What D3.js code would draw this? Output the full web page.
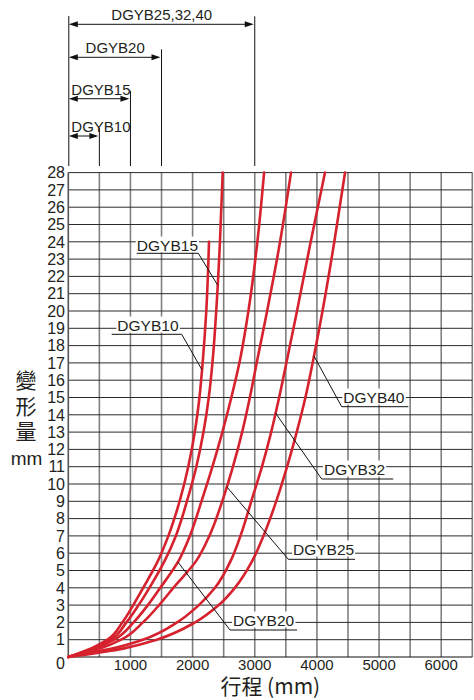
<!DOCTYPE html>
<html>
<head>
<meta charset="utf-8">
<script src="https://cdn.jsdelivr.net/npm/d3@7"></script>
<style>
body{margin:0;background:#fff;}
text{font-family:"Liberation Sans",Arial,sans-serif;fill:#231f20;}
.cjk{font-family:"Noto Sans CJK TC","Noto Sans CJK SC",sans-serif;}
</style>
</head>
<body>
<svg id="chart" width="474" height="700"></svg>
<script>
// models, left to right
var models = ["DGYB10","DGYB15","DGYB20","DGYB25","DGYB32","DGYB40"];

// deformation (mm) levels where the curves were read
var defLevels  = [0, 0.5, 1, 2, 3, 4, 5.6, 7, 9.08, 11, 13, 15, 17.2, 20, 24, 28];
// stroke (mm) at those levels
var strokeDGYB10 = [0, 370, 630, 870, 1045, 1205, 1448, 1610, 1797, 1930, 2035, 2110, 2166, 2220, 2264];
var strokeDGYB15 = [0, 390, 680, 935, 1130, 1305, 1556, 1730, 1915, 2060, 2175, 2260, 2324, 2380, 2440, 2484];
var strokeDGYB20 = [0, 440, 740, 1050, 1280, 1480, 1781, 1956, 2150, 2319, 2479, 2623, 2764, 2898, 3042, 3150];
var strokeDGYB25 = [0, 520, 850, 1200, 1460, 1690, 2066, 2270, 2484, 2649, 2797, 2921, 3042, 3199, 3407, 3583];
var strokeDGYB32 = [0, 720, 1200, 1750, 2100, 2360, 2618, 2770, 2951, 3116, 3264, 3392, 3520, 3680, 3900, 4130];
var strokeDGYB40 = [0, 900, 1422, 2040, 2420, 2680, 2966, 3140, 3353, 3520, 3675, 3815, 3942, 4090, 4280, 4452];

// deformation where each label's leader touches its curve
var labelAnchorDef = [16.6, 21.5, 5.5, 9.84, 14.1, 17.4];

// max stroke ranges shown above the chart
var rangeLabels = ["DGYB10","DGYB15","DGYB20","DGYB25,32,40"];
var rangeStroke = [500, 1000, 1500, 3000];

var xTicks = [1000, 2000, 3000, 4000, 5000, 6000];
var yTicks = [0,1,2,3,4,5,6,7,8,9,10,11,12,13,14,15,16,17,18,19,20,21,22,23,24,25,26,27,28];
var xTitle = "行程 (mm)";
var yTitle = ["變","形","量"];
var yUnit = "mm";

var curves = [strokeDGYB10, strokeDGYB15, strokeDGYB20, strokeDGYB25, strokeDGYB32, strokeDGYB40]
	.map(function(s){ return d3.zip(s, defLevels.slice(0, s.length)); });

var svg = d3.select('#chart');
var x = d3.scaleLinear().domain([0, 6500]).range([68.3, 472.3]);
var y = d3.scaleLinear().domain([0, 28]).range([657, 172.6]);
var red = '#d6222e';

//grid
var gGrid = svg.append('g');
gGrid.selectAll('line.v').data(d3.range(500, 6501, 500)).enter()
	.append('line')
	.attr('x1', function(d){return x(d)}).attr('x2', function(d){return x(d)})
	.attr('y1', y(28)).attr('y2', y(0))
	.attr('stroke', '#808080').attr('stroke-width', 1.6);
gGrid.selectAll('line.h').data(yTicks.slice(1)).enter()
	.append('line')
	.attr('x1', x(0)).attr('x2', x(6500))
	.attr('y1', function(d){return y(d)}).attr('y2', function(d){return y(d)})
	.attr('stroke', '#2b2b2b').attr('stroke-width', 1);
// axes lines
svg.append('line').attr('x1', x(0)).attr('x2', x(0)).attr('y1', y(28)).attr('y2', y(0))
	.attr('stroke', '#555').attr('stroke-width', 1.6);
svg.append('line').attr('x1', x(0)).attr('x2', x(6500)).attr('y1', y(0)).attr('y2', y(0))
	.attr('stroke', '#111').attr('stroke-width', 1.2);

//tick labels
svg.selectAll('text.xt').data(xTicks).enter()
	.append('text')
	.attr('x', function(d){return x(d)})
	.attr('y', y(0) + 13)
	.attr('text-anchor', 'middle')
	.style('font-size', '15px')
	.text(function(d){return d});
svg.selectAll('text.yt').data(yTicks).enter()
	.append('text')
	.attr('x', 65)
	.attr('y', function(d){return d == 0 ? y(0) + 6.5 : y(d)})
	.attr('dy', '0.36em')
	.attr('text-anchor', 'end')
	.style('font-size', '16px')
	.text(function(d){return d});

//axis titles
svg.append('text').attr('class', 'cjk')
	.attr('x', (x(0) + x(6500))/2.).attr('y', 694)
	.attr('text-anchor', 'middle')
	.style('font-size', '21px')
	.text(xTitle);
yTitle.forEach(function(c, i){
	svg.append('text').attr('class', 'cjk')
		.attr('x', 26).attr('y', 388 + i*25.5)
		.attr('text-anchor', 'middle')
		.style('font-size', '21px')
		.text(c);
});
svg.append('text')
	.attr('x', 26.5).attr('y', 465)
	.attr('text-anchor', 'middle')
	.style('font-size', '19px')
	.text(yUnit);

//curves, stroke as a function of deformation
var line = d3.line()
	.x(function(p){return x(p[0])})
	.y(function(p){return y(p[1])})
	.curve(d3.curveMonotoneY);
svg.selectAll('path.curve').data(curves).enter()
	.append('path')
	.attr('d', line)
	.attr('fill', 'none')
	.attr('stroke', red)
	.attr('stroke-width', 2.6)
	.attr('stroke-linecap', 'round');

//stroke on a curve at a given deformation (linear between readings)
function strokeAt(pts, d){
	for (var i = 1; i < pts.length; i++){
		if (pts[i][1] >= d){
			var t = (d - pts[i-1][1])/(pts[i][1] - pts[i-1][1]);
			return pts[i-1][0] + t*(pts[i][0] - pts[i-1][0]);
		}
	}
	return pts[pts.length-1][0];
}

//curve labels with leaders, positions in px
var labelLayout = [
	{elbow:[181.7, 334.3], end:111.7, tx:178.5, anchor:'end',   ty:330.5},
	{elbow:[198.3, 253.3], end:136.7, tx:198,   anchor:'end',   ty:250.5},
	{elbow:[230, 630],     end:297,   tx:233,   anchor:'start', ty:625.5},
	{elbow:[288.3, 559.3], end:355,   tx:293,   anchor:'start', ty:554.5},
	{elbow:[321.7, 479],   end:393.3, tx:324,   anchor:'start', ty:474.5},
	{elbow:[341.7, 406.7], end:408.3, tx:343.3, anchor:'start', ty:402.5}
];
models.forEach(function(m, i){
	var L = labelLayout[i];
	var g = svg.append('g');
	var t = g.append('text')
		.attr('x', L.tx).attr('y', L.ty)
		.attr('text-anchor', L.anchor)
		.style('font-size', '15.5px')
		.text(m);
	var bb = t.node().getBBox();
	g.insert('rect', 'text')
		.attr('x', bb.x - 1).attr('y', bb.y).attr('width', bb.width + 2).attr('height', bb.height - 1)
		.attr('fill', '#fff');
	var ad = labelAnchorDef[i];
	g.append('polyline')
		.attr('points', [[x(strokeAt(curves[i], ad)), y(ad)], L.elbow, [L.end, L.elbow[1]]].join(' '))
		.attr('fill', 'none')
		.attr('stroke', '#111')
		.attr('stroke-width', 1);
});

//range arrows at the top
var rowArrowY = [136, 98.7, 57.3, 24.3];
var gTop = svg.append('g');
gTop.append('line').attr('x1', x(0) + 0.5).attr('x2', x(0) + 0.5).attr('y1', 16).attr('y2', 166)
	.attr('stroke', '#111').attr('stroke-width', 1);
rangeLabels.forEach(function(lab, i){
	var ay = rowArrowY[i];
	var x0 = x(0) + 0.5, x1 = x(rangeStroke[i]);
	gTop.append('line').attr('x1', x1).attr('x2', x1).attr('y1', ay - 8).attr('y2', 166)
		.attr('stroke', '#111').attr('stroke-width', 1);
	gTop.append('line').attr('x1', x0 + 4).attr('x2', x1 - 4).attr('y1', ay).attr('y2', ay)
		.attr('stroke', '#111').attr('stroke-width', 1);
	gTop.append('path').attr('d', 'M' + x0 + ',' + ay + 'L' + (x0 + 9) + ',' + (ay - 3) + 'L' + (x0 + 9) + ',' + (ay + 3) + 'Z')
		.attr('fill', '#111');
	gTop.append('path').attr('d', 'M' + (x1 - 1) + ',' + ay + 'L' + (x1 - 10) + ',' + (ay - 3) + 'L' + (x1 - 10) + ',' + (ay + 3) + 'Z')
		.attr('fill', '#111');
	var t = gTop.append('text')
		.attr('y', ay - 4)
		.attr('text-anchor', 'middle')
		.style('font-size', '15px')
		.text(lab);
	var w = t.node().getBBox().width;
	t.attr('x', Math.max((x0 + x1)/2., x0 + 2.5 + w/2.));
});
</script>
</body>
</html>
